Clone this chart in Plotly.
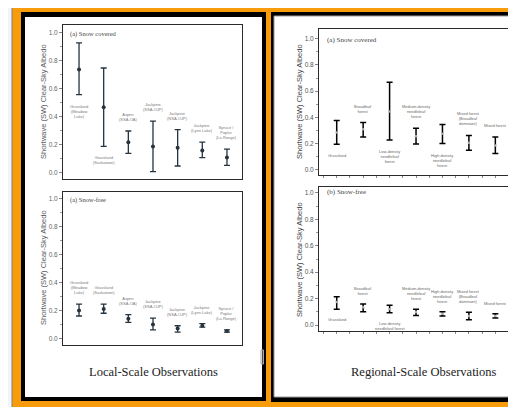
import plotly.graph_objects as go

# page offset (body margin) and figure size
OFF = 8
W, H = 516 - OFF, 407 - OFF

# ---------------- data ----------------
local_labels_snow = ["Grassland<br>(Meadow<br>Lake)", "Grassland<br>(Saskatoon)", "Aspen<br>(SSA-OA)",
                     "Jackpine<br>(SSA-OJP)", "Jackpine<br>(NSA-OJP)", "Jackpine<br>(Lynn Lake)",
                     "Spruce /<br>Poplar<br>(La Ronge)"]
local_snow_mean = [0.74, 0.47, 0.22, 0.19, 0.18, 0.16, 0.11]
local_snow_hi = [0.93, 0.75, 0.30, 0.37, 0.31, 0.22, 0.17]
local_snow_lo = [0.56, 0.19, 0.14, 0.01, 0.05, 0.11, 0.055]
local_snow_pos = ["below", "below", "above", "above", "above", "above", "above"]

local_labels_free = local_labels_snow
local_free_mean = [0.20, 0.21, 0.14, 0.10, 0.07, 0.09, 0.052]
local_free_hi = [0.245, 0.245, 0.17, 0.145, 0.09, 0.105, 0.06]
local_free_lo = [0.16, 0.18, 0.115, 0.06, 0.045, 0.08, 0.045]
local_free_pos = ["above"] * 7

regional_labels_snow = ["Grassland", "Broadleaf<br>forest", "Low-density<br>needleleaf<br>forest",
                        "Medium-density<br>needleleaf<br>forest", "High-density<br>needleleaf<br>forest",
                        "Mixed forest<br>(Broadleaf<br>dominant)", "Mixed forest"]
regional_snow_mean = [0.285, 0.31, 0.445, 0.255, 0.275, 0.206, 0.186]
regional_snow_hi = [0.375, 0.36, 0.667, 0.316, 0.346, 0.262, 0.25]
regional_snow_lo = [0.195, 0.25, 0.227, 0.196, 0.20, 0.148, 0.125]
regional_snow_pos = ["below", "above", "below", "above", "below", "above", "above"]

regional_labels_free = ["Grassland", "Broadleaf<br>forest", "Low-density<br>needleleaf forest",
                        "Medium-density<br>needleleaf<br>forest", "High-density<br>needleleaf<br>forest",
                        "Mixed forest<br>(Broadleaf<br>dominant)", "Mixed forest"]
regional_free_mean = [0.174, 0.134, 0.12, 0.098, 0.086, 0.068, 0.068]
regional_free_hi = [0.215, 0.16, 0.15, 0.119, 0.10, 0.096, 0.086]
regional_free_lo = [0.12, 0.10, 0.093, 0.073, 0.068, 0.04, 0.053]
regional_free_pos = ["below", "above", "below", "above", "above", "above", "above"]

y_ticks = [0.0, 0.2, 0.4, 0.6, 0.8, 1.0]
y_title = "Shortwave (SW) Clear-Sky Albedo"


def px(x):
    return (x - OFF) / W


def py(y):
    return 1 - (y - OFF) / H


fig = go.Figure()

panels = [
    ("", local_labels_snow, local_snow_mean, local_snow_hi, local_snow_lo, local_snow_pos,
     (63, 242), (25, 179), (-0.043, 1.057), (-0.65, 6.61), "local", 7),
    ("2", local_labels_free, local_free_mean, local_free_hi, local_free_lo, local_free_pos,
     (63, 242), (192, 345), (-0.048, 1.05), (-0.65, 6.61), "local", 7),
    ("3", regional_labels_snow, regional_snow_mean, regional_snow_hi, regional_snow_lo, regional_snow_pos,
     (319, 512), (29, 175), (-0.04, 1.074), (-0.67, 6.63), "regional", 7),
    ("4", regional_labels_free, regional_free_mean, regional_free_hi, regional_free_lo, regional_free_pos,
     (319, 512), (187, 331), (-0.045, 1.045), (-0.67, 6.63), "regional", 6),
]

annotations = []
layout_axes = {}
for suf, labels, mean, hi, lo, pos, xd, yd, yr, xr, style, gap in panels:
    xs = list(range(len(labels)))
    up = [h - m for h, m in zip(hi, mean)]
    dn = [m - l for m, l in zip(mean, lo)]
    if style == "local":
        ecol, mcol, msize, ew, lcol = "#26343f", "#26343f", 4, 1.3, "#7a7a7a"
    else:
        ecol, mcol, msize, ew, lcol = "#000000", "#b0b0b0", 2.5, 1.5, "#6a6a6a"
    fig.add_trace(go.Scatter(
        x=xs, y=mean, mode="markers", xaxis="x" + suf, yaxis="y" + suf,
        marker=dict(color=mcol, size=msize),
        error_y=dict(type="data", symmetric=False, array=up, arrayminus=dn,
                     color=ecol, thickness=ew, width=3),
        showlegend=False, hoverinfo="skip"))
    for i, lab in enumerate(labels):
        if pos[i] == "below":
            annotations.append(dict(x=xs[i], y=lo[i], xref="x" + suf, yref="y" + suf, text=lab,
                                    showarrow=False, yanchor="top", yshift=-gap,
                                    font=dict(size=4, color=lcol, family="Liberation Sans")))
        else:
            annotations.append(dict(x=xs[i], y=hi[i], xref="x" + suf, yref="y" + suf, text=lab,
                                    showarrow=False, yanchor="bottom", yshift=gap,
                                    font=dict(size=4, color=lcol, family="Liberation Sans")))
    tcol = "#666666" if style == "local" else "#555555"
    layout_axes["xaxis" + suf] = dict(
        domain=[px(xd[0]), min(px(xd[1]), 1.0)], range=list(xr), anchor="y" + suf,
        showgrid=False, zeroline=False, showline=True, linecolor="#2a2a2a", linewidth=1, mirror=True,
        tickvals=[v / 2 for v in range(-1, 14)] if style == "regional" else [],
        ticktext=[""] * 15 if style == "regional" else [],
        ticks="outside" if style == "regional" else "", ticklen=2, tickcolor="#888", tickwidth=0.6,
        fixedrange=True)
    layout_axes["yaxis" + suf] = dict(
        domain=[py(yd[1]), py(yd[0])], range=list(yr), anchor="x" + suf,
        showgrid=False, zeroline=False, showline=True, linecolor="#2a2a2a", linewidth=1, mirror=True,
        tickvals=y_ticks, ticktext=[f"{v:.1f}" for v in y_ticks],
        ticks="outside", ticklen=3, tickcolor="#888", tickwidth=0.6,
        minor=dict(dtick=0.1, tick0=0, ticks="outside", ticklen=2, tickcolor="#999", tickwidth=0.6),
        tickfont=dict(size=6.5, color=tcol, family="Liberation Sans"),
        fixedrange=True)

# panel letters
for txt, x, y, sz in [("(a) Snow covered", 68, 34, 6.5), ("(a) Snow-free", 68, 200, 6.5),
                      ("(a) Snow covered", 325, 40, 7), ("(b) Snow-free", 325, 192.5, 7)]:
    annotations.append(dict(x=px(x), y=py(y), xref="paper", yref="paper", text=txt, showarrow=False,
                            xanchor="left", yanchor="middle",
                            font=dict(size=sz, color="#444", family="Liberation Serif")))

# axis titles
for x, y, col in [(43, 102, "#5a5a5a"), (43, 268, "#5a5a5a"), (299, 102, "#444"), (299, 260, "#444")]:
    annotations.append(dict(x=px(x), y=py(y), xref="paper", yref="paper", text=y_title, showarrow=False,
                            textangle=-90, xanchor="center", yanchor="middle",
                            font=dict(size=7.5, color=col, family="Liberation Sans")))

# scale titles
for txt, x, y in [("Local-Scale Observations", 153, 372), ("Regional-Scale Observations", 424, 372)]:
    annotations.append(dict(x=px(x), y=py(y), xref="paper", yref="paper", text=txt, showarrow=False,
                            xanchor="center", yanchor="middle",
                            font=dict(size=12.5, color="#222", family="Liberation Serif")))


def rect(x0, y0, x1, y1, fill, line=None, lw=0):
    return dict(type="rect", xref="paper", yref="paper", x0=px(x0), x1=px(x1), y0=py(y1), y1=py(y0),
                fillcolor=fill, line=dict(color=line or fill, width=lw), layer="below")


shapes = [
    rect(12, 4, 530, 420, "#f99c0b", "#808080", 1),
    rect(21, 12, 266, 401, "#000000"),
    rect(25, 17, 262, 397, "#ffffff"),
    rect(271, 12, 530, 402, "#000000"),
    rect(274, 16, 530, 397, "#ffffff", "#9a9a9a", 1),
    dict(type="rect", xref="paper", yref="paper", x0=px(261), x1=px(263.5), y0=py(364), y1=py(350),
         fillcolor="rgba(255,255,255,0.3)", line=dict(color="#aaaaaa", width=1), layer="above"),
]

fig.update_layout(
    width=W, height=H, autosize=False,
    margin=dict(l=0, r=0, t=0, b=0),
    paper_bgcolor="#f1f4f8", plot_bgcolor="#ffffff",
    shapes=shapes, annotations=annotations, showlegend=False,
    **layout_axes)

fig.write_html("out.html")
